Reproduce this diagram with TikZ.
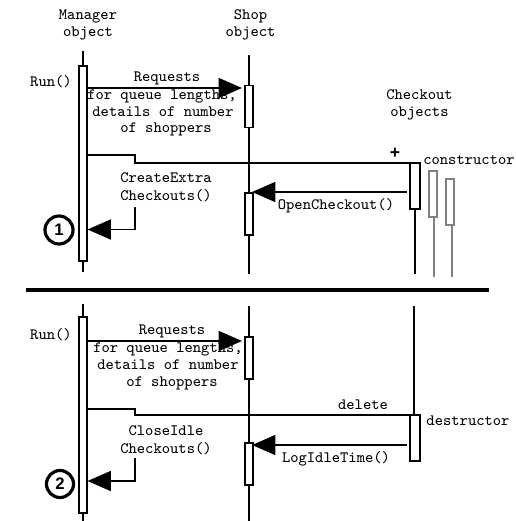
\documentclass[tikz,border=0pt]{standalone}
\usepackage{fontspec}
\setmainfont{Liberation Sans}
\usetikzlibrary{arrows.meta}
\definecolor{SDInk}{HTML}{000000}
\definecolor{SDGray}{HTML}{808080}
\tikzset{
  life/.style={SDInk,line width=1.1pt},
  lifegray/.style={life,SDGray},
  bar/.style={draw=SDInk,line width=1.1pt,fill=white,minimum width=.16cm,inner sep=0pt},
  barwide/.style={bar,minimum width=.2cm},
  bargray/.style={bar,draw=SDGray},
  msg/.style={-{Triangle[length=4.7mm,width=4mm]},SDInk,line width=1.1pt},
  call/.style={SDInk,line width=1.1pt},
  rule/.style={SDInk,line width=2.3pt},
  label/.style={text=SDInk,inner sep=0pt,align=center,font=\fontsize{9}{9.2}\selectfont\ttfamily},
  badge/.style={circle,draw=SDInk,line width=1.8pt,fill=white,minimum size=.56cm,inner sep=0pt,
                font=\fontsize{9.5}{11}\selectfont\bfseries},
}
\begin{document}
\begin{tikzpicture}[x=.02cm,y=-.02cm]
    \useasboundingbox (0,0) rectangle (516,521);

    % column heads
    \node[label] (mgrhead) at (88,25) {Manager\\[.9pt]object};
    \node[label] (shophead) at (250.5,25) {Shop\\[.9pt]object};
    \node[label] (cohead) at (419.5,105) {Checkout\\[.9pt]objects};

    % upper half
    \coordinate (mgrtopA) at (83,51);
    \coordinate (mgrbotA) at (83,272);
    \coordinate (shoptopA) at (249,55);
    \coordinate (shopbotA) at (249,274);
    \draw[life] (mgrtopA)--(mgrbotA);
    \draw[life] (shoptopA)--(shopbotA);

    \node[label] (runA) at (51,82) {Run()};
    \node[label] (reqA) at (167,78) {Requests};
    \node[label] (qA) at (162,96) {for queue lengths,};
    \node[label] (detA) at (163,112) {details of number};
    \node[label] (shoppersA) at (166,129) {of shoppers};
    \node[label] (extraA) at (166,187) {CreateExtra\\[.9pt]Checkouts()};
    \node[label] (openA) at (336,206) {OpenCheckout()};
    \node[label] (ctor) at (469,160) {constructor};
    \node[font=\fontsize{10}{12}\selectfont\bfseries,inner sep=0pt] (plus) at (395,153) {+};

    \node[bar,minimum height=3.9cm] (mgrbarA) at (83,163.5) {};
    \node[bar,minimum height=.84cm] (shopbarA) at (249,106.5) {};
    \node[bar,minimum height=.84cm] (shopbarB) at (249,214) {};

    % checkout objects, the two spare ones in gray
    \node[barwide,minimum height=.92cm] (cobarA) at (415,186) {};
    \node[barwide,bargray,minimum height=.92cm] (cobarB) at (433,194) {};
    \node[bar,bargray,minimum height=.92cm] (cobarC) at (450,202) {};
    \coordinate (coendA) at (415,274);
    \coordinate (coendB) at (434,277);
    \coordinate (coendC) at (452,277);
    \draw[life] (cobarA.south)--(coendA);
    \draw[lifegray] (cobarB.south-|coendB)--(coendB);
    \draw[lifegray] (cobarC.south-|coendC)--(coendC);

    \coordinate (reqfromA) at (87,88);
    \coordinate (reqtoA) at (242,88);
    \draw[msg] (reqfromA)--(reqtoA);
    \coordinate (elbowA) at (87,155);
    \coordinate (elbowAend) at (410,163);
    \draw[call] (elbowA)-|(135,163)--(elbowAend);
    \coordinate (selfA) at (135,207);
    \coordinate (selftoA) at (87.5,229.5);
    \draw[msg] (selfA)|-(selftoA);
    \coordinate (openfromA) at (407,192);
    \coordinate (opentoA) at (252,192);
    \draw[msg] (openfromA)--(opentoA);
    \node[badge] (oneA) at (59,230) {1};

    % divider
    \coordinate (ruleL) at (26,290);
    \coordinate (ruleR) at (489,290);
    \draw[rule] (ruleL)--(ruleR);

    % lower half
    \coordinate (mgrtopB) at (83,304);
    \coordinate (mgrbotB) at (83,521);
    \coordinate (shoptopB) at (249,306);
    \coordinate (shopbotB) at (249,521);
    \coordinate (cotopB) at (414,306);
    \draw[life] (mgrtopB)--(mgrbotB);
    \draw[life] (shoptopB)--(shopbotB);

    \node[label] (runB) at (51,335) {Run()};
    \node[label] (reqB) at (172,331) {Requests};
    \node[label] (qB) at (168,349) {for queue lengths,};
    \node[label] (detB) at (168,365) {details of number};
    \node[label] (shoppersB) at (172,383) {of shoppers};
    \node[label] (idleB) at (166,440) {CloseIdle\\[.9pt]Checkouts()};
    \node[label] (logB) at (336,459) {LogIdleTime()};
    \node[label] (delB) at (363,405) {delete};
    \node[label] (dtor) at (468,421) {destructor};

    \node[bar,minimum height=3.92cm] (mgrbarB) at (83,415) {};
    \node[bar,minimum height=.84cm] (shopbarC) at (249,358) {};
    \node[bar,minimum height=.84cm] (shopbarD) at (249,464) {};
    \node[barwide,minimum height=.92cm] (cobarD) at (415,438) {};
    \draw[life] (cotopB)--(cobarD.north-|cotopB);

    \coordinate (reqfromB) at (87,341);
    \coordinate (reqtoB) at (242,341);
    \draw[msg] (reqfromB)--(reqtoB);
    \coordinate (elbowB) at (87,409);
    \coordinate (elbowBend) at (410,415);
    \draw[call] (elbowB)-|(135,415)--(elbowBend);
    \coordinate (selfB) at (135,458);
    \coordinate (selftoB) at (87.5,481);
    \draw[msg] (selfB)|-(selftoB);
    \coordinate (logfromB) at (407,445);
    \coordinate (logtoB) at (252,445);
    \draw[msg] (logfromB)--(logtoB);
    \node[badge,minimum size=.54cm] (twoB) at (60,484) {2};
\end{tikzpicture}
\end{document}
